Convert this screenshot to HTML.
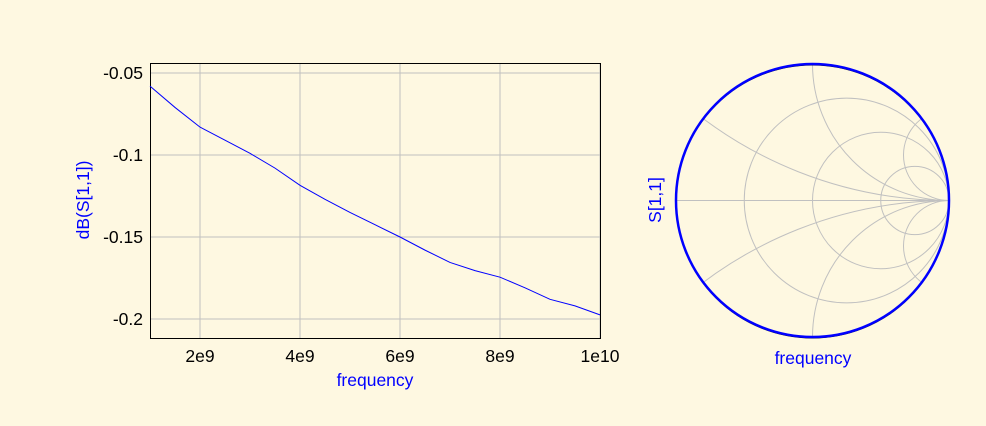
<!DOCTYPE html>
<html><head><style>
html,body{margin:0;width:986px;height:426px;overflow:hidden;background:#fef8e1;font-family:"Liberation Sans",sans-serif}
svg{display:block}
</style></head><body>
<svg width="986" height="426">
<g id="left"></g>
<g id="smith"></g>
</svg>
<script>
const freqs=[1e9,1.5e9,2e9,2.5e9,3e9,3.5e9,4e9,4.5e9,5e9,5.5e9,6e9,6.5e9,7e9,7.5e9,8e9,8.5e9,9e9,9.5e9,1e10];
const dbVals=[-0.058,-0.071,-0.083,-0.091,-0.099,-0.108,-0.1185,-0.127,-0.135,-0.1425,-0.15,-0.158,-0.1655,-0.1705,-0.1745,-0.181,-0.188,-0.192,-0.1975];
const xTicks=[2e9,4e9,6e9,8e9,1e10];
const xTickLabels=["2e9","4e9","6e9","8e9","1e10"];
const yTicks=[-0.05,-0.1,-0.15,-0.2];
const yTickLabels=["-0.05","-0.1","-0.15","-0.2"];
const rCircles=[1/3,1,3];
const xArcs=[1/3,1,3];
const NS="http://www.w3.org/2000/svg";
function mk(p,t,a){const e=document.createElementNS(NS,t);for(const k in a)e.setAttribute(k,a[k]);p.appendChild(e);return e;}
const FS=17.5;
const L=document.getElementById('left');
const X0=150,X1=600,Y0=63,Y1=338;
const xs=v=>X0+(v-1e9)/9e9*(X1-X0);
const ys=v=>73+(-0.05-v)/0.05*82;
xTicks.forEach((t,i)=>{const l=mk(L,'line',{x1:xs(t),x2:xs(t),y1:Y0,y2:Y1,stroke:'#c0c0c0'});

const tx=mk(L,'text',{x:xs(t),y:362,'text-anchor':'middle','font-size':FS,fill:'#000'});tx.textContent=xTickLabels[i];
});
yTicks.forEach((t,i)=>{const l=mk(L,'line',{x1:X0,x2:X1,y1:ys(t),y2:ys(t),stroke:'#c0c0c0'});

const tx=mk(L,'text',{x:143,y:ys(t)+6,'text-anchor':'end','font-size':FS,fill:'#000'});tx.textContent=yTickLabels[i];
});
const fr=mk(L,'rect',{x:X0+.5,y:Y0+.5,width:X1-X0,height:Y1-Y0,fill:'none',stroke:'#000'});

const pl=mk(L,'polyline',{points:freqs.map((f,i)=>xs(f)+','+ys(dbVals[i])).join(' '),fill:'none',stroke:'#0000ff','stroke-width':1});

const xt=mk(L,'text',{x:375,y:386,'text-anchor':'middle','font-size':FS,fill:'#0000ff'});xt.textContent='frequency';

const yt=mk(L,'text',{x:0,y:0,'text-anchor':'middle','font-size':FS,fill:'#0000ff',transform:'translate(89,200) rotate(-90)'});yt.textContent='dB(S[1,1])';

// Smith
const S=document.getElementById('smith');
const cx=812.5,cy=200.5,R=136.5;
const cp=mk(S,'clipPath',{id:'cl'});mk(cp,'circle',{cx,cy,r:R});
const g=mk(S,'g',{'clip-path':'url(#cl)'});
mk(g,'line',{x1:cx-R,x2:cx+R,y1:cy,y2:cy,stroke:'#c0c0c0'});
rCircles.forEach(r=>{const c=mk(g,'circle',{cx:cx+R*r/(r+1),cy,r:R/(r+1),fill:'none',stroke:'#c0c0c0'});
});
xArcs.forEach(x=>{[1,-1].forEach(s=>{const c=mk(g,'circle',{cx:cx+R,cy:cy-s*R/x,r:R/x,fill:'none',stroke:'#c0c0c0'});
});});
mk(S,'circle',{cx:cx,cy:cy+1,r:R,fill:'none',stroke:'#000','stroke-width':1});
const sc=mk(S,'circle',{cx,cy,r:R,fill:'none',stroke:'#0000ff','stroke-width':2.5});

const st=mk(S,'text',{x:813,y:364,'text-anchor':'middle','font-size':FS,fill:'#0000ff'});st.textContent='frequency';

const sy=mk(S,'text',{x:0,y:0,'text-anchor':'middle','font-size':FS,fill:'#0000ff',transform:'translate(661,200) rotate(-90)'});sy.textContent='S[1,1]';

</script>
</body></html>
